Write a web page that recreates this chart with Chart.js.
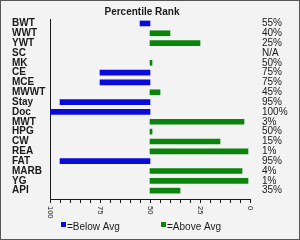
<!DOCTYPE html>
<html>
<head>
<meta charset="utf-8">
<script src="https://cdn.jsdelivr.net/npm/chart.js@4.4.1/dist/chart.umd.min.js"></script>
<style>
  html, body { margin: 0; padding: 0; background: #fff; }
  #wrap { width: 300px; height: 240px; box-sizing: border-box; border: 1px solid #555; background: #f3f3f3; }
  #chart { display: block; }
</style>
</head>
<body>
<div id="wrap"><canvas id="chart" width="298" height="238"></canvas></div>
<script>
// data
const categories = ['BWT', 'WWT', 'YWT', 'SC', 'MK', 'CE', 'MCE', 'MWWT', 'Stay', 'Doc',
                    'MWT', 'HPG', 'CW', 'REA', 'FAT', 'MARB', 'YG', 'API'];
const percentiles = [55, 40, 25, null, 50, 75, 75, 45, 95, 100, 3, 50, 15, 1, 95, 4, 1, 35];
const rankLabels = percentiles.map(v => v === null ? 'N/A' : v + '%');
const xTickLabels = [100, 75, 50, 25, 0];
const legendLabels = ['=Below Avg', '=Above Avg'];
const titleText = 'Percentile Rank';
const AVG = 50;

const BLUE = '#0a0adc';
const GREEN = '#0b840b';
const INK = '#1a1a1a';
const FONT = '"Liberation Sans", Arial, sans-serif';

const belowData = [];
const aboveData = [];
percentiles.forEach(function (v, i) {
    if (v === null) return;
    if (v > AVG) belowData.push({ y: i, x: [AVG, v] });
    else aboveData.push({ y: i, x: [AVG, v] });
});

// one tick per category row
function rowTicks(scale) {
    scale.ticks = categories.map(function (c, i) { return { value: i }; });
}

// title, rotated x labels and legend drawn on top
const decor = {
    id: 'decor',
    afterDraw(chart) {
        const ctx = chart.ctx;
        const xs = chart.scales.x;
        ctx.save();
        ctx.fillStyle = INK;

        ctx.font = 'bold 10px ' + FONT;
        ctx.textAlign = 'center';
        ctx.textBaseline = 'alphabetic';
        ctx.fillText(titleText, 141, 14);

        ctx.font = '7.5px ' + FONT;
        xTickLabels.forEach(function (v) {
            const px = xs.getPixelForValue(v);
            ctx.save();
            ctx.translate(px, xs.top + 7);
            ctx.rotate(Math.PI / 2);
            ctx.textAlign = 'left';
            ctx.textBaseline = 'middle';
            ctx.fillText(String(v), 0, 0);
            ctx.restore();
        });

        ctx.font = '10px ' + FONT;
        ctx.textAlign = 'left';
        const items = [[BLUE, 60, legendLabels[0]], [GREEN, 160, legendLabels[1]]];
        items.forEach(function (it) {
            ctx.fillStyle = it[0];
            ctx.fillRect(it[1], 221, 5, 5);
            ctx.fillStyle = INK;
            ctx.fillText(it[2], it[1] + 6, 228.5);
        });
        ctx.restore();
    }
};

new Chart(document.getElementById('chart'), {
    type: 'bar',
    data: {
        datasets: [
            { label: legendLabels[0], data: belowData, backgroundColor: BLUE, grouped: false },
            { label: legendLabels[1], data: aboveData, backgroundColor: GREEN, grouped: false, minBarLength: 2 }
        ]
    },
    options: {
        indexAxis: 'y',
        responsive: false,
        animation: false,
        barThickness: 5,
        borderWidth: 0,
        layout: { padding: { left: 11, top: 15, right: 0, bottom: 0 } },
        plugins: {
            legend: { display: false },
            title: { display: false },
            tooltip: { enabled: false }
        },
        scales: {
            x: {
                type: 'linear',
                min: 0,
                max: 100,
                reverse: true,
                ticks: { stepSize: 5, display: false },
                grid: { drawOnChartArea: false, drawTicks: true, tickLength: 4, color: INK },
                border: { display: true, color: INK },
                afterFit: function (s) { s.height = 40; }
            },
            y: {
                type: 'linear',
                position: 'left',
                min: -0.45,
                max: 17.85,
                reverse: true,
                offset: false,
                afterBuildTicks: rowTicks,
                ticks: {
                    autoSkip: false,
                    crossAlign: 'far',
                    color: INK,
                    font: { family: FONT, size: 10, weight: 'bold' },
                    callback: function (value) {
                        return Number.isInteger(value) ? categories[value] : '';
                    }
                },
                grid: { display: true, drawOnChartArea: false, drawTicks: false },
                border: { display: true, color: INK },
                afterFit: function (s) { s.width = 38; }
            },
            y2: {
                type: 'linear',
                position: 'right',
                min: -0.45,
                max: 17.85,
                reverse: true,
                offset: false,
                afterBuildTicks: rowTicks,
                ticks: {
                    autoSkip: false,
                    crossAlign: 'near',
                    padding: 12,
                    color: INK,
                    font: { family: FONT, size: 10 },
                    callback: function (value) {
                        return Number.isInteger(value) ? rankLabels[value] : '';
                    }
                },
                grid: { display: false, drawTicks: false },
                border: { display: false },
                afterFit: function (s) { s.width = 49; }
            }
        }
    },
    plugins: [decor]
});
</script>
</body>
</html>
